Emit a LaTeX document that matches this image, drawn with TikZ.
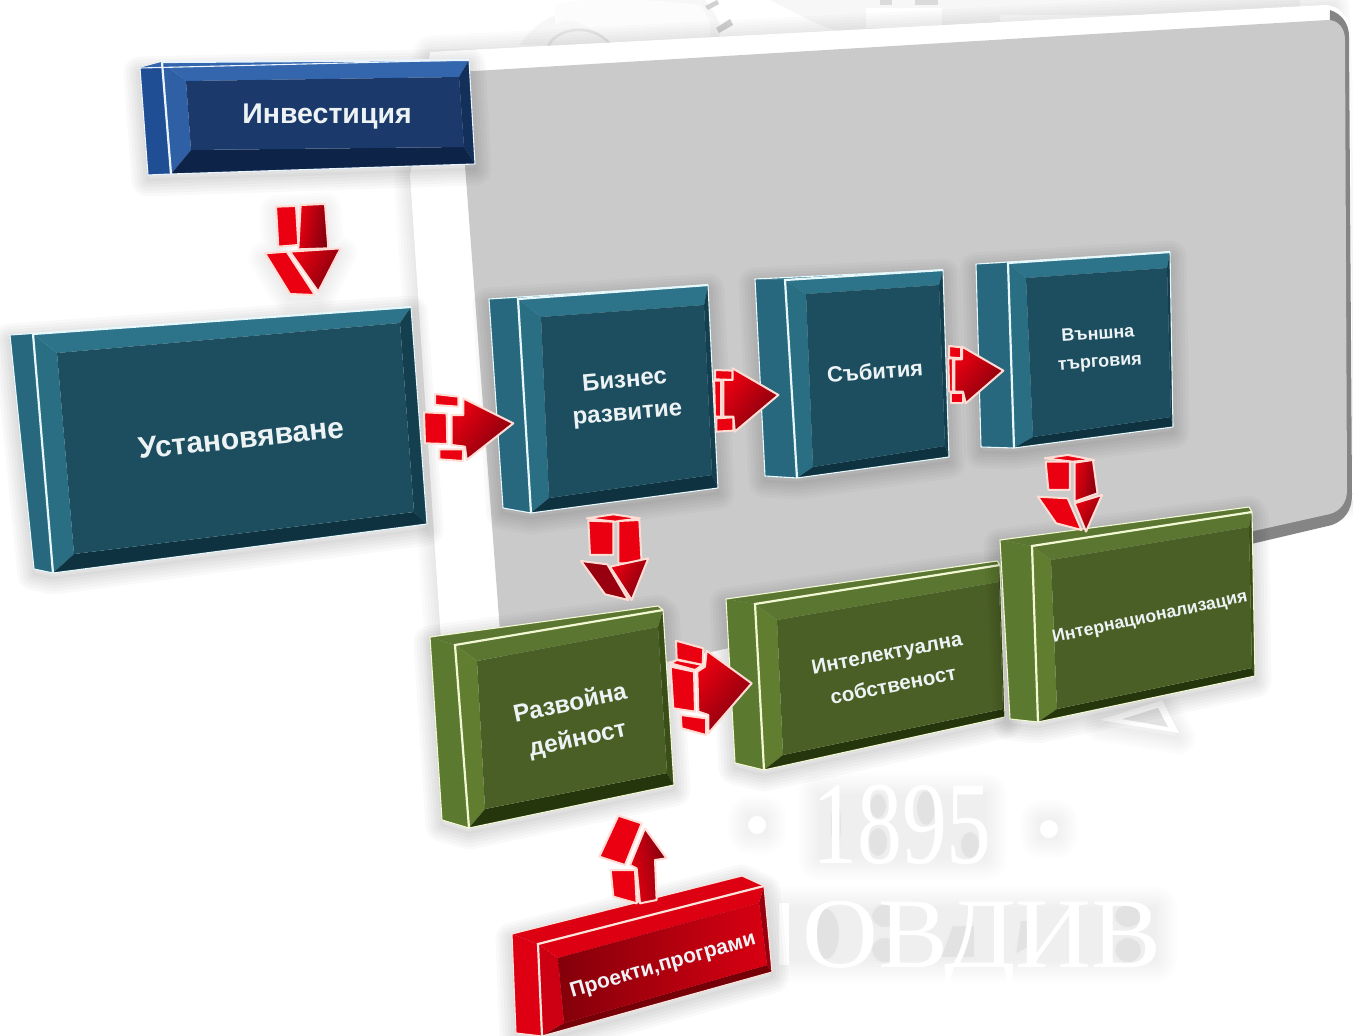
\documentclass[tikz,border=0pt]{standalone}
\usepackage{fontspec}
\setmainfont{Liberation Sans}
\newfontfamily\wmfont{Liberation Serif}
\definecolor{tealS}{HTML}{27687F}\definecolor{tealT}{HTML}{2D7389}\definecolor{tealL}{HTML}{2A6E84}
\definecolor{tealR}{HTML}{143F4E}\definecolor{tealB}{HTML}{0F3240}\definecolor{tealI}{HTML}{1D4E5F}\definecolor{tealE}{HTML}{E6F8FC}
\definecolor{blueS}{HTML}{1F4E95}\definecolor{blueT}{HTML}{3366AC}\definecolor{blueL}{HTML}{2F60A6}
\definecolor{blueR}{HTML}{12305A}\definecolor{blueB}{HTML}{0D2448}\definecolor{blueI}{HTML}{1B3A6B}\definecolor{blueE}{HTML}{EAF4FF}
\definecolor{grnS}{HTML}{5C7A2F}\definecolor{grnT}{HTML}{5A7630}\definecolor{grnL}{HTML}{607D30}
\definecolor{grnR}{HTML}{3A4F18}\definecolor{grnB}{HTML}{26360C}\definecolor{grnI}{HTML}{4A5F25}\definecolor{grnE}{HTML}{F2F8D4}
\definecolor{redS}{HTML}{DE0012}\definecolor{redT}{HTML}{DC0012}\definecolor{redL}{HTML}{CC0012}
\definecolor{redR}{HTML}{980010}\definecolor{redB}{HTML}{760008}\definecolor{redI}{HTML}{B80012}\definecolor{redE}{HTML}{FFE4DC}
\definecolor{ArrowEdge}{HTML}{FFDCD4}\definecolor{ArrowRed}{HTML}{EA0010}\definecolor{ArrowDark}{HTML}{7E000E}
\definecolor{panelGray}{HTML}{CACACA}\definecolor{panelEdge}{HTML}{858585}\definecolor{wmGray}{HTML}{E2E2E2}\definecolor{boxText}{HTML}{EDF3F5}
\tikzset{
  arrowpart/.style={draw=ArrowEdge,line width=2pt,line join=round,fill=ArrowRed},
  headpart/.style={draw=ArrowEdge,line width=2pt,line join=round,left color=ArrowRed,middle color=ArrowRed,right color=ArrowDark,shading angle=#1},
  headpart/.default=75,
  boxlabel/.style={text=boxText,font=\bfseries,align=center,inner sep=0pt},
  wmtext/.style={text=white,inner sep=0pt,transform shape},
  counter/.style={fill=wmGray,draw=wmGray!60!white,line width=2pt}
}
\newcommand\softp[2]{\foreach \w in {3,9,15,21,27,33}{\draw[line width=\w pt,black,opacity=#2,line join=round,transform canvas={yshift=-5pt}] #1;}}
\newcommand\pts[7]{\coordinate (f1) at (#1);\coordinate (f2) at (#2);\coordinate (f3) at (#3);\coordinate (f4) at (#4);\coordinate (s1) at (#5);\coordinate (s2) at (#6);\coordinate (bk) at (#7);}
\newcommand\ipts[4]{\coordinate (i1) at (#1);\coordinate (i2) at (#2);\coordinate (i3) at (#3);\coordinate (i4) at (#4);}
\newcommand\renderbox[1]{%
  \softp{(s1)--(s2)--(f4)--(f3)--(f2)--(bk)--cycle}{.022}
  \fill[#1S] (s1)--(s2)--(f4)--(f1)--cycle;
  \fill[#1T] (s1)--(f1)--(f2)--(bk)--cycle;
  \fill[#1T] (f1)--(f2)--(i2)--(i1)--cycle;
  \fill[#1L] (f1)--(i1)--(i4)--(f4)--cycle;
  \fill[#1R] (f2)--(f3)--(i3)--(i2)--cycle;
  \fill[#1B] (f4)--(i4)--(i3)--(f3)--cycle;
  \fill[#1I] (i1)--(i2)--(i3)--(i4)--cycle;
  \draw[#1E,line width=1.1pt,line join=round] (s1)--(s2)--(f4)--(f3)--(f2)--(bk)--cycle;
  \draw[#1E,line width=2.2pt] (f4)--(f1)--(f2);
}
\begin{document}
\begin{tikzpicture}[x=1pt,y=-1pt]
\useasboundingbox (0,0) rectangle (1353,1036);
\fill[white] (0,0) rectangle (1353,1036);
\clip (0,0) rectangle (1353,1036);

% ---- faint watermark fragments, top
\fill[black!3] (520,45) .. controls (545,0) and (640,-10) .. (705,0) .. controls (720,20) and (725,30) .. (715,45) -- cycle;
\fill[black!3] (770,0) .. controls (800,15) and (825,30) .. (845,32) -- (1000,25) -- (1000,0) -- cycle;
\fill[black!3] (1000,0) rectangle (1300,15);
\fill[black!1] (555,5) .. controls (590,-5) and (660,0) .. (700,5) .. controls (715,25) and (712,35) .. (705,42) -- (610,46) .. controls (590,25) and (570,15) .. (555,25) -- cycle;
\draw[black!9,line width=2.5pt] (548,48) .. controls (552,30) and (590,20) .. (610,44);
\fill[black!18] (705,6) -- (717,0) -- (719,4) -- (708,10) -- cycle;
\fill[black!18] (716,28) -- (730,19) -- (733,25) -- (719,33) -- cycle;
\fill[white] (866,8) rectangle (942,28);
\fill[black!14] (880,0) rectangle (892,5);\fill[black!14] (915,0) rectangle (938,5);
% triangle fragment
\softp{(1100,720)--(1162,700)--(1179,733)--cycle}{.012}
\fill[white] (1100,720)--(1162,700)--(1179,733)--cycle;
\fill[wmGray] (1122,719)--(1158,708)--(1168,727)--cycle;

% ---- watermark text on soft halo
\foreach \xa/\ya/\xb/\yb in {750/818/764/832,1042/822/1056/836,820/795/985/858,785/908/1155/960}{
  \foreach \w in {1,4,7,10,13,16,19,22}{\fill[black,opacity=.009,rounded corners=\w pt] (\xa-\w,\ya-\w) rectangle (\xb+\w,\yb+\w);}
}
\draw[counter] (878,806) ellipse (9 and 13);
\draw[counter] (878,842) ellipse (10 and 15);
\draw[counter] (926,808) ellipse (10 and 18);
\draw[counter] (970,845) ellipse (10 and 14);
\draw[counter] (836,825) ellipse (6 and 26);
\draw[counter] (826,934) ellipse (14 and 26);
\draw[counter] (885,916) ellipse (14 and 12);
\draw[counter] (885,950) ellipse (14 and 13);
\draw[counter] (952,925) -- (975,925) -- (975,958) -- (940,958) -- cycle;
\draw[counter] (1020,920) -- (1034,920) -- (1034,945) -- (1015,955) -- cycle;
\draw[counter] (1128,916) ellipse (14 and 12);
\draw[counter] (1128,950) ellipse (14 and 13);
\node[wmtext,anchor=base,xscale=.76] (wm1895) at (902,863) {\wmfont\fontsize{118}{118}\selectfont 1895};
\fill[white] (757,825) circle (9);
\fill[white] (1049,829) circle (9);
\node[wmtext,anchor=base east,xscale=1.05] (wmcity) at (1162,967) {\wmfont\fontsize{100}{100}\selectfont ОВДИВ};
\fill[white] (779,903) rectangle (789,965);

% ---- panel
\foreach \w in {3,9,15,21,27,33}{\draw[black,line width=\w pt,opacity=.014,line join=round] (430,52)--(1333,6)--(1352,500)--(520,720)--(445,700)--(410,175)--cycle;}
\fill[white] (430,52) -- (1325,5) .. controls (1340,5) and (1350,18) .. (1350,35) -- (1353,500) -- (1200,560) -- (520,720) -- (445,700) -- (410,175) -- cycle;
\fill[panelEdge] (1330,10) .. controls (1342,14) and (1349,24) .. (1349,36) -- (1352,495) .. controls (1352,510) and (1345,520) .. (1332,525) -- (1200,556) -- (1200,520) -- (1320,480) -- cycle;
\fill[panelGray] (458,72) -- (1328,20) .. controls (1338,20) and (1345,28) .. (1345,40) -- (1347,490) .. controls (1347,503) and (1340,511) .. (1330,514) -- (505,698) -- cycle;

% ---- boxes
\pts{162,62}{469,60}{475,164}{171,174}{140,68}{148,175}{469,60}
\ipts{186,81}{459,77}{464,147}{191,150}
\renderbox{blue}
\node[boxlabel,font=\bfseries\fontsize{28.5}{28.5}\selectfont] (inv) at (327,117) {Инвестиция};

\pts{33,334}{411,307}{427,524}{53,573}{10,335}{34,569}{411,307}
\ipts{57,353}{400,323}{414,512}{74,554}
\renderbox{teal}
\node[boxlabel,font=\bfseries\fontsize{30}{30}\selectfont,rotate=6] (ust) at (241,438) {Установяване};

\pts{518,299}{708,285}{718,488}{531,513}{489,299}{503,508}{708,285}
\ipts{541,317}{704,305}{712,475}{549,498}
\renderbox{teal}
\node[boxlabel,font=\bfseries\fontsize{24}{33}\selectfont,rotate=5] (biz) at (626,398) {Бизнес\\развитие};

\pts{785,280}{943,270}{949,457}{797,478}{755,279}{765,476}{943,270}
\ipts{806,294}{939,285}{945,446}{813,467}
\renderbox{teal}
\node[boxlabel,font=\bfseries\fontsize{22}{22}\selectfont,rotate=4] (sab) at (875,371) {Събития};

\pts{1008,263}{1170,252}{1173,427}{1014,448}{976,264}{981,447}{1170,252}
\ipts{1026,278}{1167,268}{1171,417}{1033,437}
\renderbox{teal}
\node[boxlabel,font=\bfseries\fontsize{18}{28}\selectfont,rotate=4] (vun) at (1099,349) {Външна\\търговия};

\pts{755,604}{1000,565}{1005,717}{764,770}{726,599}{735,763}{997,561}
\ipts{777,620}{999,582}{1003,709}{783,755}
\renderbox{grn}
\node[boxlabel,font=\bfseries\fontsize{20.5}{33}\selectfont,rotate=11] (intel) at (890,669) {Интелектуална\\собственост};

\pts{1032,546}{1252,512}{1255,676}{1038,722}{1000,540}{1010,719}{1249,507}
\ipts{1051,560}{1249,527}{1252,668}{1057,709}
\renderbox{grn}
\node[boxlabel,font=\bfseries\fontsize{17.7}{18}\selectfont,rotate=12] (intern) at (1150,618) {Интернационализация};

\pts{455,645}{663,610}{674,785}{469,828}{430,637}{442,820}{658,606}
\ipts{477,661}{658,627}{667,773}{485,809}
\renderbox{grn}
\node[boxlabel,font=\bfseries\fontsize{24.5}{36}\selectfont,rotate=12] (razv) at (574,722) {Развойна\\дейност};

\pts{538,944}{764,886}{772,972}{542,1036}{512,934}{516,1033}{742,876}
\ipts{558,958}{759,903}{767,965}{564,1023}
\renderbox{red}
\shade[left color=redB!80!redI,right color=redS!85!redI] (i1)--(i2)--(i3)--(i4)--cycle;
\node[boxlabel,font=\bfseries\fontsize{21}{21}\selectfont,rotate=16] (proj) at (663,966) {Проекти,програми};

% ---- arrows (coordinates of each are local to its scope)
% Инвестиция -> Установяване
\begin{scope}[xshift=250pt,yshift=-190pt,x=.3333pt,y=-.3333pt]
\softp{(78,50)--(225,42)--(235,175)--(272,175)--(205,310)--(120,312)--(45,190)--(85,170)--cycle}{.012}
\draw[arrowpart] (78,50)--(138,48)--(145,165)--(85,170)--cycle;
\draw[headpart=80] (152,45)--(225,42)--(235,175)--(145,178)--cycle;
\draw[arrowpart] (45,190)--(110,185)--(195,315)--(120,312)--cycle;
\draw[headpart=60] (120,185)--(272,175)--(205,305)--cycle;
\end{scope}
% Установяване -> Бизнес развитие
\begin{scope}[xshift=410pt,yshift=-380pt,x=.3333pt,y=-.3333pt]
\draw[arrowpart] (75,42)--(145,50)--(145,80)--(75,75)--cycle;
\draw[arrowpart] (42,97)--(110,100)--(112,192)--(45,190)--cycle;
\draw[arrowpart] (88,208)--(160,208)--(158,243)--(88,238)--cycle;
\draw[headpart=50] (160,55)--(310,130)--(170,240)--(165,200)--(125,195)--(125,105)--(160,105)--cycle;
\end{scope}
% Бизнес развитие -> Събития ; Събития -> Външна търговия
\begin{scope}[xshift=480pt,yshift=-240pt,x=.4591pt,y=-.3333pt]
\draw[arrowpart] (512,390)--(550,392)--(550,420)--(512,418)--cycle;
\draw[arrowpart] (510,422)--(525,422)--(525,530)--(512,530)--cycle;
\draw[arrowpart] (515,535)--(552,532)--(552,572)--(515,575)--cycle;
\draw[headpart=50] (550,385)--(650,465)--(555,575)--(552,530)--(530,530)--(530,420)--(550,420)--cycle;
\draw[arrowpart] (1022,318)--(1048,322)--(1048,355)--(1022,352)--cycle;
\draw[arrowpart] (1020,355)--(1030,355)--(1030,455)--(1022,455)--cycle;
\draw[arrowpart] (1025,460)--(1052,460)--(1052,490)--(1025,490)--cycle;
\draw[headpart=50] (1050,320)--(1140,392)--(1058,490)--(1052,455)--(1033,455)--(1033,358)--(1050,358)--cycle;
% Външна търговия -> Интернационализация
\draw[arrowpart] (1230,655)--(1280,645)--(1338,660)--(1290,665)--cycle;
\draw[arrowpart] (1232,665)--(1285,665)--(1285,750)--(1238,750)--cycle;
\draw[headpart=80] (1295,668)--(1335,660)--(1345,760)--(1295,785)--cycle;
\draw[arrowpart] (1215,770)--(1280,775)--(1310,870)--(1255,850)--cycle;
\draw[headpart=60] (1295,790)--(1355,765)--(1320,875)--cycle;
\end{scope}
% Развойна дейност -> Интелектуална собственост
\begin{scope}[xshift=660pt,yshift=-620pt,x=.3333pt,y=-.3333pt]
\draw[arrowpart] (48,62)--(130,85)--(128,135)--(50,118)--cycle;
\draw[arrowpart] (32,130)--(50,120)--(128,135)--(105,150)--cycle;
\draw[arrowpart] (32,140)--(102,155)--(105,275)--(40,265)--cycle;
\draw[arrowpart] (62,285)--(138,295)--(138,345)--(65,325)--cycle;
\draw[headpart=50] (140,92)--(275,190)--(145,340)--(145,285)--(115,275)--(112,155)--(135,140)--cycle;
\end{scope}
% Бизнес развитие -> Развойна дейност
\begin{scope}[xshift=570pt,yshift=-505pt,x=.3333pt,y=-.3333pt]
\draw[arrowpart] (50,40)--(130,28)--(210,40)--(135,50)--cycle;
\draw[arrowpart] (55,47)--(130,50)--(130,150)--(60,150)--cycle;
\draw[arrowpart] (145,48)--(208,45)--(215,175)--(145,175)--cycle;
\draw[arrowpart,fill=ArrowDark!75!ArrowRed] (33,168)--(112,178)--(175,285)--(105,268)--cycle;
\draw[headpart=60] (120,185)--(235,160)--(185,285)--cycle;
\end{scope}
% Проекти,програми -> Развойна дейност
\begin{scope}[xshift=590pt,yshift=-805pt,x=.3333pt,y=-.3333pt]
\draw[arrowpart] (62,195)--(135,195)--(140,295)--(70,275)--cycle;
\draw[headpart=100] (165,70)--(230,160)--(195,165)--(200,285)--(150,295)--(140,190)--(120,180)--cycle;
\draw[arrowpart] (85,32)--(155,55)--(105,180)--(28,155)--cycle;
\end{scope}
\end{tikzpicture}
\end{document}
